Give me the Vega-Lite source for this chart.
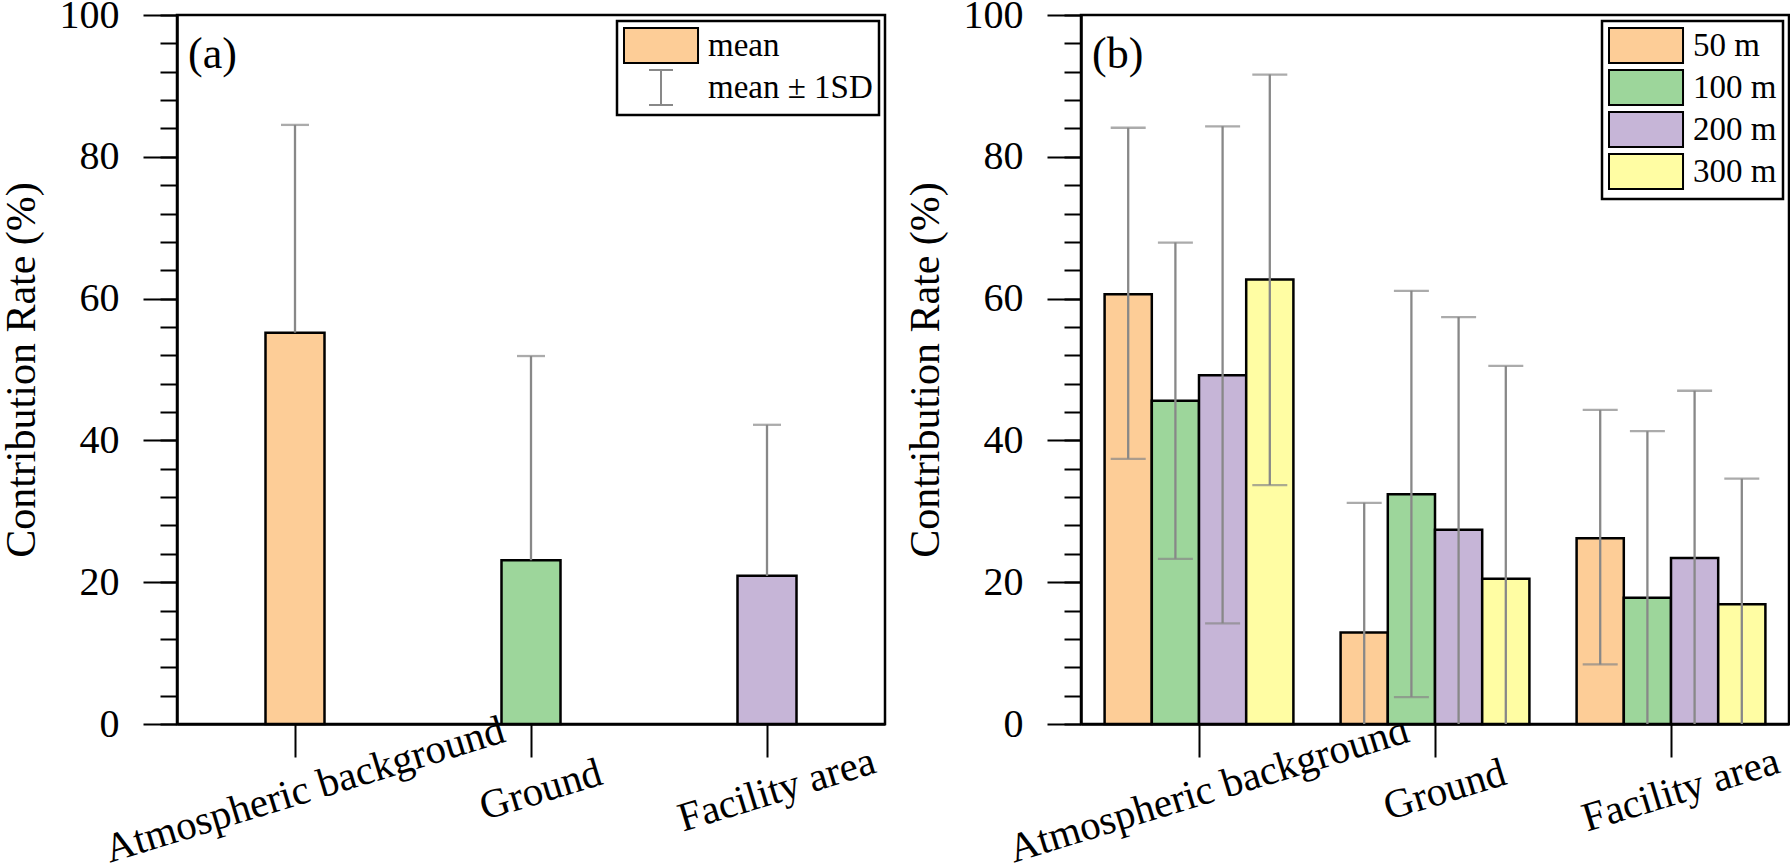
{
  "$schema": "https://vega.github.io/schema/vega-lite/v6.json",
  "background": "white",
  "padding": {"left": -2, "top": -7, "right": 0, "bottom": 0},
  "spacing": 15,
  "resolve": {
    "scale": {"fill": "independent", "stroke": "independent", "shape": "independent", "color": "independent"},
    "legend": {"fill": "independent", "stroke": "independent", "shape": "independent", "color": "independent"}
  },
  "config": {
    "font": "Liberation Serif",
    "view": {"stroke": "black", "strokeWidth": 2.5},
    "axis": {
      "labelFont": "Liberation Serif",
      "titleFont": "Liberation Serif",
      "labelColor": "black",
      "titleColor": "black",
      "tickColor": "black",
      "domainColor": "black",
      "domainWidth": 2.5,
      "tickWidth": 2,
      "grid": false,
      "labelLimit": 0
    },
    "legend": {
      "orient": "top-right",
      "offset": 6,
      "padding": 6,
      "rowPadding": -1,
      "labelFont": "Liberation Serif",
      "labelFontSize": 33,
      "labelColor": "black",
      "labelOffset": 48,
      "labelLimit": 0,
      "strokeColor": "black",
      "strokeWidth": 2.5,
      "fillColor": "white",
      "symbolSize": 1225,
      "symbolStrokeWidth": 2,
      "symbolStrokeColor": "black",
      "symbolOpacity": 1
    },
    "title": {"font": "Liberation Serif", "fontSize": 44, "fontWeight": "normal", "color": "black"}
  },
  "hconcat": [
    {
      "width": 708,
      "height": 709,
      "title": {"text": "(a)", "anchor": "start", "frame": "group", "orient": "top", "baseline": "alphabetic", "offset": -117, "dx": 11},
      "data": {"values": [
        {"source": "Atmospheric background", "mean": 55.2, "hi": 84.5},
        {"source": "Ground", "mean": 23.1, "hi": 51.9},
        {"source": "Facility area", "mean": 20.9, "hi": 42.2}
      ]},
      "layer": [
        {
          "mark": {"type": "bar", "stroke": "black", "strokeWidth": 2.5},
          "encoding": {
            "x": {"field": "source", "type": "nominal", "sort": ["Atmospheric background", "Ground", "Facility area"],
              "scale": {"paddingInner": 0.75, "paddingOuter": 0.375},
              "axis": {"title": null, "tickSize": 33, "labelAngle": -17, "labelAlign": "center", "labelBaseline": "middle", "labelPadding": 33, "labelOffset": 10, "labelFontSize": 41, "labelFlush": false, "labelOverlap": false, "labelBound": false}},
            "y": {"field": "mean", "type": "quantitative", "scale": {"domain": [0, 100], "nice": false},
              "axis": {"values": [0, 20, 40, 60, 80, 100], "tickSize": 34, "labelFontSize": 40, "labelPadding": 24, "title": "Contribution Rate (%)", "titleFontSize": 42, "titleFontWeight": "normal", "titlePadding": 16, "orient": "left"}},
            "color": {"field": "source", "type": "nominal", "scale": {"domain": ["Atmospheric background", "Ground", "Facility area"], "range": ["#FDCD97", "#9DD69B", "#C6B5D7"]}, "legend": null}
          }
        },
        {
          "mark": {"type": "rule", "color": "#888888", "strokeWidth": 2.3},
          "encoding": {
            "x": {"field": "source", "type": "nominal", "sort": ["Atmospheric background", "Ground", "Facility area"]},
            "y": {"field": "mean", "type": "quantitative", "axis": null},
            "y2": {"field": "hi"}
          }
        },
        {
          "mark": {"type": "tick", "color": "#888888", "thickness": 2.3, "size": 28},
          "encoding": {
            "x": {"field": "source", "type": "nominal", "sort": ["Atmospheric background", "Ground", "Facility area"]},
            "y": {"field": "hi", "type": "quantitative",
              "axis": {"values": [0, 4, 8, 12, 16, 20, 24, 28, 32, 36, 40, 44, 48, 52, 56, 60, 64, 68, 72, 76, 80, 84, 88, 92, 96, 100], "tickSize": 17, "labels": false, "domain": false, "title": null, "orient": "left"}}
          }
        },
        {
          "data": {"values": [{"lg": "mean"}, {"lg": "mean ± 1SD"}]},
          "transform": [{"filter": "datum.lg == 'none'"}],
          "mark": {"type": "point", "size": 1225, "strokeWidth": 2, "opacity": 1},
          "encoding": {
            "fill": {"field": "lg", "type": "nominal", "scale": {"domain": ["mean", "mean ± 1SD"], "range": ["#FDCD97", "transparent"]}, "legend": {"title": null}},
            "stroke": {"field": "lg", "type": "nominal", "scale": {"domain": ["mean", "mean ± 1SD"], "range": ["black", "#888888"]}, "legend": {"title": null}},
            "shape": {"field": "lg", "type": "nominal", "scale": {"domain": ["mean", "mean ± 1SD"], "range": ["M-1,-1H3.23V1H-1Z", "M0.43,-1H1.8M1.115,-1V1M0.43,1H1.8"]}, "legend": {"title": null}}
          }
        }
      ],
      "resolve": {"axis": {"y": "independent"}}
    },
    {
      "width": 708,
      "height": 709,
      "title": {"text": "(b)", "anchor": "start", "frame": "group", "orient": "top", "baseline": "alphabetic", "offset": -117, "dx": 11},
      "data": {"values": [
        {"source": "Atmospheric background", "dist": "50 m", "mean": 60.6, "lo": 37.4, "hi": 84.1},
        {"source": "Atmospheric background", "dist": "100 m", "mean": 45.6, "lo": 23.3, "hi": 67.9},
        {"source": "Atmospheric background", "dist": "200 m", "mean": 49.2, "lo": 14.2, "hi": 84.3},
        {"source": "Atmospheric background", "dist": "300 m", "mean": 62.7, "lo": 33.7, "hi": 91.6},
        {"source": "Ground", "dist": "50 m", "mean": 12.9, "lo": 0, "hi": 31.2},
        {"source": "Ground", "dist": "100 m", "mean": 32.4, "lo": 3.8, "hi": 61.1},
        {"source": "Ground", "dist": "200 m", "mean": 27.4, "lo": 0, "hi": 57.4},
        {"source": "Ground", "dist": "300 m", "mean": 20.5, "lo": 0, "hi": 50.5},
        {"source": "Facility area", "dist": "50 m", "mean": 26.2, "lo": 8.4, "hi": 44.3},
        {"source": "Facility area", "dist": "100 m", "mean": 17.8, "lo": 0, "hi": 41.3},
        {"source": "Facility area", "dist": "200 m", "mean": 23.4, "lo": 0, "hi": 47.0},
        {"source": "Facility area", "dist": "300 m", "mean": 16.9, "lo": 0, "hi": 34.6}
      ]},
      "layer": [
        {
          "mark": {"type": "bar", "stroke": "black", "strokeWidth": 2.5},
          "encoding": {
            "x": {"field": "source", "type": "nominal", "sort": ["Atmospheric background", "Ground", "Facility area"],
              "scale": {"paddingInner": 0.2, "paddingOuter": 0.1},
              "axis": {"title": null, "tickSize": 33, "labelAngle": -17, "labelAlign": "center", "labelBaseline": "middle", "labelPadding": 33, "labelOffset": 10, "labelFontSize": 41, "labelFlush": false, "labelOverlap": false, "labelBound": false}},
            "xOffset": {"field": "dist", "type": "nominal", "sort": ["50 m", "100 m", "200 m", "300 m"], "scale": {"paddingInner": 0, "paddingOuter": 0}},
            "y": {"field": "mean", "type": "quantitative", "scale": {"domain": [0, 100], "nice": false},
              "axis": {"values": [0, 20, 40, 60, 80, 100], "tickSize": 34, "labelFontSize": 40, "labelPadding": 24, "title": "Contribution Rate (%)", "titleFontSize": 42, "titleFontWeight": "normal", "titlePadding": 16, "orient": "left"}},
            "fill": {"field": "dist", "type": "nominal", "sort": ["50 m", "100 m", "200 m", "300 m"],
              "scale": {"domain": ["50 m", "100 m", "200 m", "300 m"], "range": ["#FDCD97", "#9DD69B", "#C6B5D7", "#FFFDA3"]},
              "legend": {"title": null, "symbolType": "M-1,-1H3.23V1H-1Z", "symbolStrokeColor": "black", "symbolStrokeWidth": 2}}
          }
        },
        {
          "mark": {"type": "rule", "color": "#888888", "strokeWidth": 2.3},
          "encoding": {
            "x": {"field": "source", "type": "nominal", "sort": ["Atmospheric background", "Ground", "Facility area"]},
            "xOffset": {"field": "dist", "type": "nominal", "sort": ["50 m", "100 m", "200 m", "300 m"]},
            "y": {"field": "lo", "type": "quantitative", "axis": null},
            "y2": {"field": "hi"}
          }
        },
        {
          "mark": {"type": "tick", "color": "#888888", "thickness": 2.3, "size": 35},
          "encoding": {
            "x": {"field": "source", "type": "nominal", "sort": ["Atmospheric background", "Ground", "Facility area"]},
            "xOffset": {"field": "dist", "type": "nominal", "sort": ["50 m", "100 m", "200 m", "300 m"]},
            "y": {"field": "hi", "type": "quantitative",
              "axis": {"values": [0, 4, 8, 12, 16, 20, 24, 28, 32, 36, 40, 44, 48, 52, 56, 60, 64, 68, 72, 76, 80, 84, 88, 92, 96, 100], "tickSize": 17, "labels": false, "domain": false, "title": null, "orient": "left"}}
          }
        },
        {
          "transform": [{"filter": "datum.lo > 0"}],
          "mark": {"type": "tick", "color": "#888888", "thickness": 2.3, "size": 35},
          "encoding": {
            "x": {"field": "source", "type": "nominal", "sort": ["Atmospheric background", "Ground", "Facility area"]},
            "xOffset": {"field": "dist", "type": "nominal", "sort": ["50 m", "100 m", "200 m", "300 m"]},
            "y": {"field": "lo", "type": "quantitative", "axis": null}
          }
        }
      ],
      "resolve": {"axis": {"y": "independent"}}
    }
  ]
}
